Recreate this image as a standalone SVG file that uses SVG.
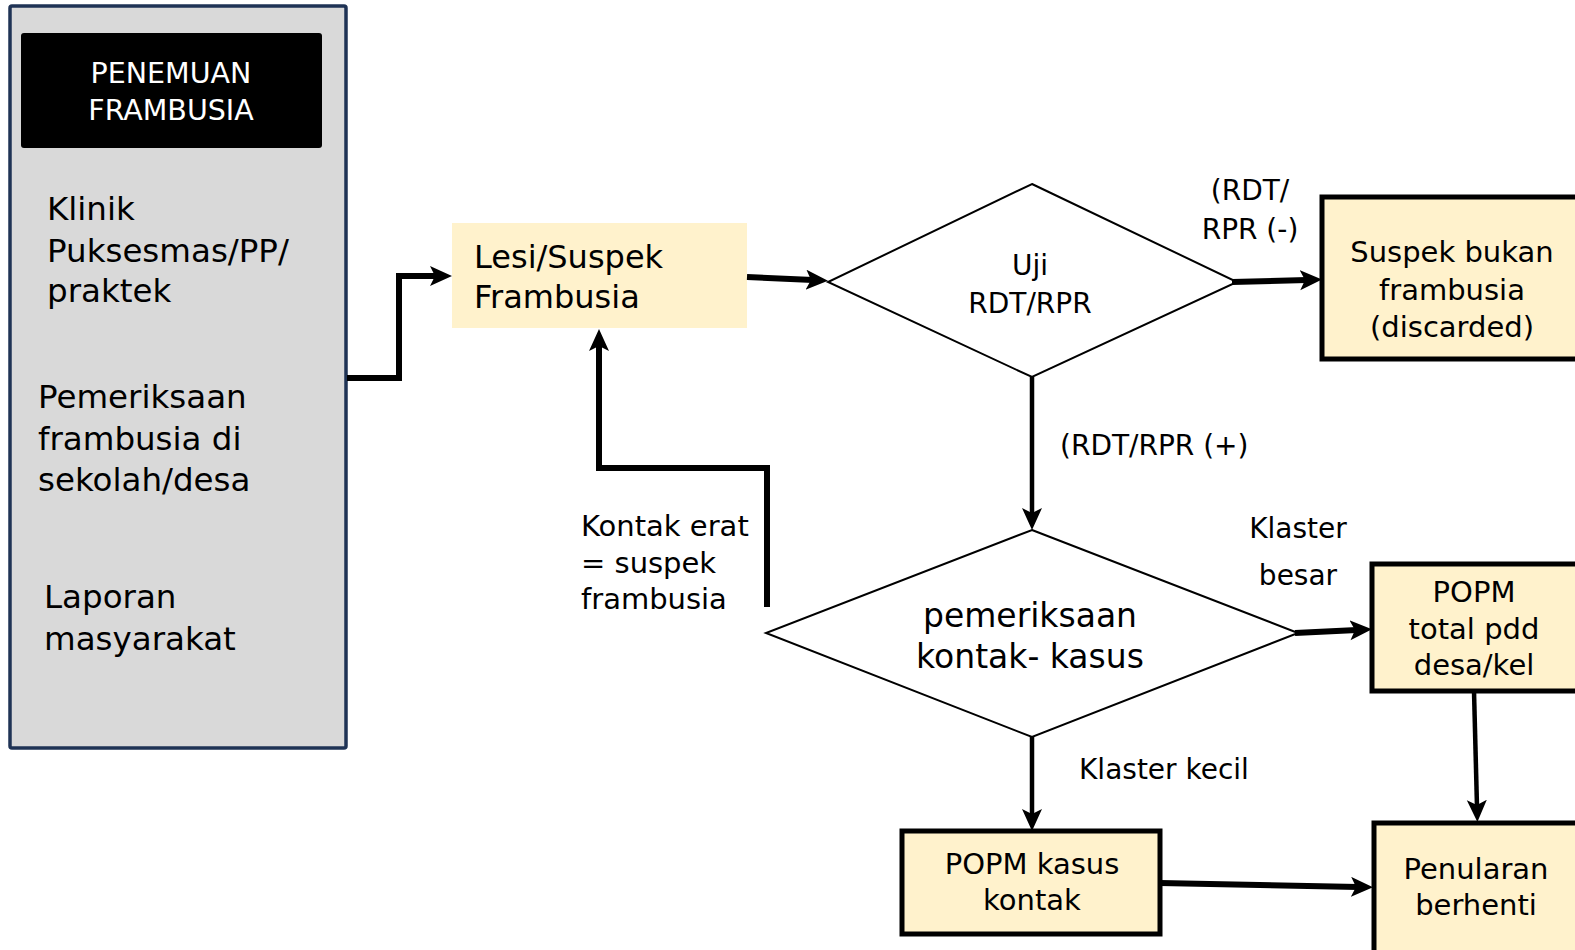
<svg xmlns="http://www.w3.org/2000/svg" width="1575" height="950" viewBox="0 0 1575 950">
<style>
text{font-family:"DejaVu Sans","Liberation Sans",sans-serif;fill:#000}
.c{text-anchor:middle}
.s27{font-size:28px}
.s29{font-size:29px}
.lft{font-size:32.5px}
.box{fill:#fff2cc;stroke:#000;stroke-width:5}
.dia{fill:#fff;stroke:#000;stroke-width:2}
.ln{fill:none;stroke:#000;stroke-width:6;marker-end:url(#ah)}
.ln2{fill:none;stroke:#000;stroke-width:4.5;marker-end:url(#ah)}
</style>
<defs>
<marker id="ah" markerUnits="userSpaceOnUse" markerWidth="26" markerHeight="22" refX="7" refY="10" orient="auto">
<path d="M0,0 L22,10 L0,20 L5,10 Z" fill="#000"/>
</marker>
</defs>
<rect width="1575" height="950" fill="#fff"/>

<g id="penemuan">
<rect x="10" y="6" width="336" height="742" fill="#d9d9d9" stroke="#1f3355" stroke-width="3.5" rx="2"/>
<rect x="21" y="33" width="301" height="115" rx="3" fill="#000"/>
<text class="c" x="171" y="83" font-size="28.5" style="fill:#fff">PENEMUAN</text>
<text class="c" x="171" y="120" font-size="28.5" style="fill:#fff">FRAMBUSIA</text>
<text class="lft" x="47" y="220">Klinik</text>
<text class="lft" x="47" y="262">Puksesmas/PP/</text>
<text class="lft" x="47" y="302">praktek</text>
<text class="lft" x="38" y="408">Pemeriksaan</text>
<text class="lft" x="38" y="450">frambusia di</text>
<text class="lft" x="38" y="491">sekolah/desa</text>
<text class="lft" x="44" y="608">Laporan</text>
<text class="lft" x="44" y="650">masyarakat</text>
</g>

<g id="lesi">
<rect x="452" y="223" width="295" height="105" fill="#fff2cc"/>
<text x="474" y="268" font-size="32">Lesi/Suspek</text>
<text x="474" y="308" font-size="32">Frambusia</text>
</g>

<g id="uji">
<polygon class="dia" points="1032,184 1237,282 1032,377 828,282"/>
<text class="c s27" x="1030" y="275">Uji</text>
<text class="c s27" x="1030" y="313">RDT/RPR</text>
</g>

<g id="suspek-bukan">
<rect class="box" x="1322" y="197" width="270" height="162"/>
<text class="c s29" x="1452" y="262">Suspek bukan</text>
<text class="c s29" x="1452" y="300">frambusia</text>
<text class="c s29" x="1452" y="337">(discarded)</text>
</g>

<g id="pemeriksaan-kontak">
<polygon class="dia" points="1032,530 1298,633 1032,737 766,633"/>
<text class="c" x="1030" y="627" font-size="33">pemeriksaan</text>
<text class="c" x="1030" y="668" font-size="33">kontak- kasus</text>
</g>

<g id="popm-total">
<rect class="box" x="1372" y="564" width="220" height="127"/>
<text class="c s29" x="1474" y="602">POPM</text>
<text class="c s29" x="1474" y="639">total pdd</text>
<text class="c s29" x="1474" y="675">desa/kel</text>
</g>

<g id="popm-kasus">
<rect class="box" x="902" y="831" width="258" height="103"/>
<text class="c s29" x="1032" y="874">POPM kasus</text>
<text class="c s29" x="1032" y="910">kontak</text>
</g>

<g id="penularan">
<rect class="box" x="1374" y="823" width="220" height="140"/>
<text class="c s29" x="1476" y="879">Penularan</text>
<text class="c s29" x="1476" y="915">berhenti</text>
</g>

<g id="connectors">
<path class="ln" d="M347,378 H399 V276 H437"/>
<path class="ln" d="M747,277 L813,280"/>
<path class="ln2" d="M1032,377 V515"/>
<path class="ln" d="M1232,282 L1307,280"/>
<path class="ln" d="M767,607 V468 H599 V344"/>
<path class="ln" d="M1295,633 L1357,630"/>
<path class="ln2" d="M1032,737 V816"/>
<path class="ln2" d="M1474,691 L1477,807"/>
<path class="ln" d="M1160,883 L1358,887"/>
</g>

<g id="labels">
<text class="c s27" x="1250" y="200">(RDT/</text>
<text class="c s27" x="1250" y="239">RPR (-)</text>
<text class="s27" x="1060" y="455">(RDT/RPR (+)</text>
<text class="s29" x="581" y="536">Kontak erat</text>
<text class="s29" x="581" y="573">= suspek</text>
<text class="s29" x="581" y="609">frambusia</text>
<text class="c s27" x="1298" y="538">Klaster</text>
<text class="c s27" x="1298" y="585">besar</text>
<text class="s27" x="1079" y="779">Klaster kecil</text>
</g>
</svg>
